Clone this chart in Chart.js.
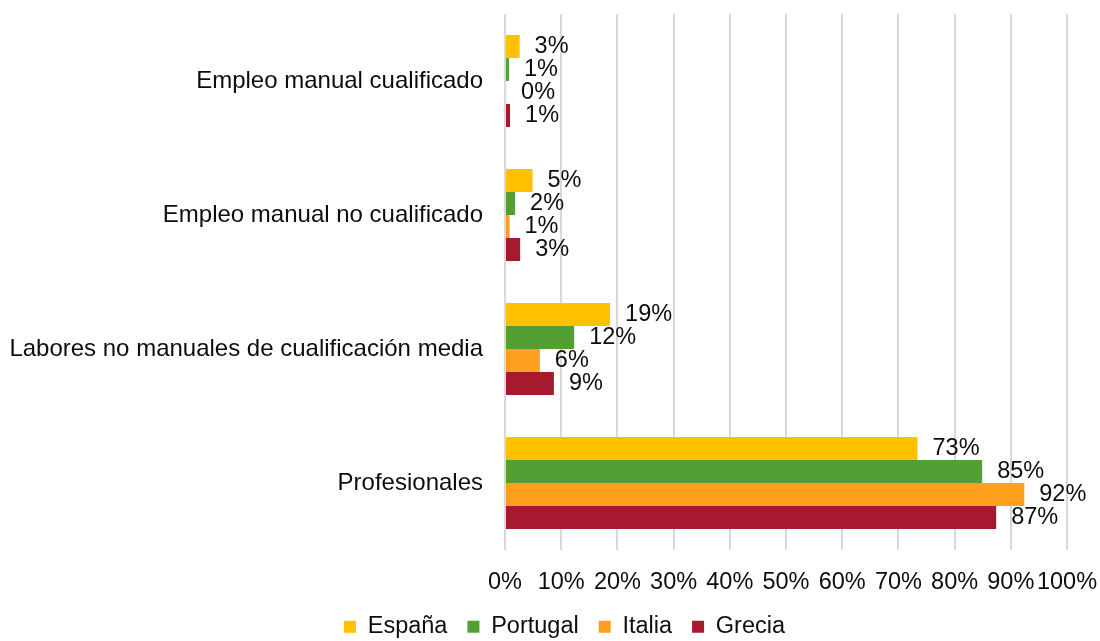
<!DOCTYPE html>
<html lang="es">
<head>
  <meta charset="UTF-8" />
  <title>Ocupación por país</title>
  <script src="https://cdn.jsdelivr.net/npm/chart.js"></script>
  <style>
    body {
      margin: 0;
      background: #fff;
      font-family: 'Liberation Sans', Arial, sans-serif;
    }
    #wrap {
      width: 1100px;
      height: 641px;
    }
  </style>
</head>
<body>
  <div id="wrap">
    <canvas id="chart" width="1100" height="641"></canvas>
  </div>

  <script>
    const categories = [
      'Empleo manual cualificado',
      'Empleo manual no cualificado',
      'Labores no manuales de cualificación media',
      'Profesionales'
    ];
    const espana   = [2.6, 4.9, 18.7, 73.4];
    const portugal = [0.7, 1.8, 12.3, 84.9];
    const italia   = [0.2, 0.8, 6.2, 92.4];
    const grecia   = [0.9, 2.7, 8.7, 87.4];
    const tickValues = [0, 10, 20, 30, 40, 50, 60, 70, 80, 90, 100];

    const FONT = "'Liberation Sans', Arial, sans-serif";
    const TEXT = '#0d0d0d';

    // value labels just past the end of each bar
    const barLabels = {
      id: 'barLabels',
      afterDatasetsDraw(chart) {
        const ctx = chart.ctx;
        ctx.save();
        ctx.font = '23.5px ' + FONT;
        ctx.fillStyle = TEXT;
        ctx.textAlign = 'left';
        ctx.textBaseline = 'middle';
        chart.data.datasets.forEach((ds, i) => {
          chart.getDatasetMeta(i).data.forEach((bar, j) => {
            ctx.fillText(Math.round(ds.data[j]) + '%', bar.x + 15, bar.y);
          });
        });
        ctx.restore();
      }
    };

    // short legend box, nudged right like the original
    const legendTweak = {
      id: 'legendTweak',
      afterInit(chart) {
        const lg = chart.legend;
        if (!lg) return;
        const fit = lg.fit;
        lg.fit = function () {
          fit.call(this);
          this.height = 46;
        };
      },
      afterLayout(chart) {
        const lg = chart.legend;
        if (!lg) return;
        lg.left += 31;
        lg.right += 31;
      }
    };

    new Chart(document.getElementById('chart'), {
      type: 'bar',
      data: {
        labels: categories,
        datasets: [
          { label: 'España',   data: espana,   backgroundColor: '#FFC000' },
          { label: 'Portugal', data: portugal, backgroundColor: '#52A033' },
          { label: 'Italia',   data: italia,   backgroundColor: '#FF9F1E' },
          { label: 'Grecia',   data: grecia,   backgroundColor: '#A6192E' }
        ]
      },
      options: {
        indexAxis: 'y',
        responsive: false,
        animation: false,
        categoryPercentage: 0.687,
        barPercentage: 1,
        layout: {
          padding: { left: 0, right: 33, top: 14, bottom: 0 }
        },
        scales: {
          x: {
            min: 0,
            max: 100,
            afterBuildTicks(scale) {
              scale.ticks = tickValues.map(v => ({ value: v }));
            },
            afterFit(scale) {
              scale.height = 45;
              scale.paddingLeft = 0;
              scale.paddingRight = 0;
            },
            ticks: {
              callback: v => v + '%',
              color: TEXT,
              padding: 18,
              maxRotation: 0,
              autoSkip: false,
              font: { family: FONT, size: 23.5 }
            },
            grid: {
              color: '#d9d9d9',
              lineWidth: 2,
              drawTicks: false
            },
            border: { display: false }
          },
          y: {
            afterFit(scale) {
              scale.width = 505;
              scale.paddingTop = 0;
              scale.paddingBottom = 0;
            },
            ticks: {
              color: TEXT,
              padding: 22,
              font: { family: FONT, size: 24, lineHeight: 1.35 }
            },
            grid: { display: false, drawTicks: false },
            border: { display: false }
          }
        },
        plugins: {
          legend: {
            position: 'bottom',
            labels: {
              boxWidth: 12,
              boxHeight: 12,
              padding: 20,
              color: TEXT,
              font: { family: FONT, size: 23.5 }
            }
          },
          tooltip: { enabled: false }
        }
      },
      plugins: [barLabels, legendTweak]
    });
  </script>
</body>
</html>
